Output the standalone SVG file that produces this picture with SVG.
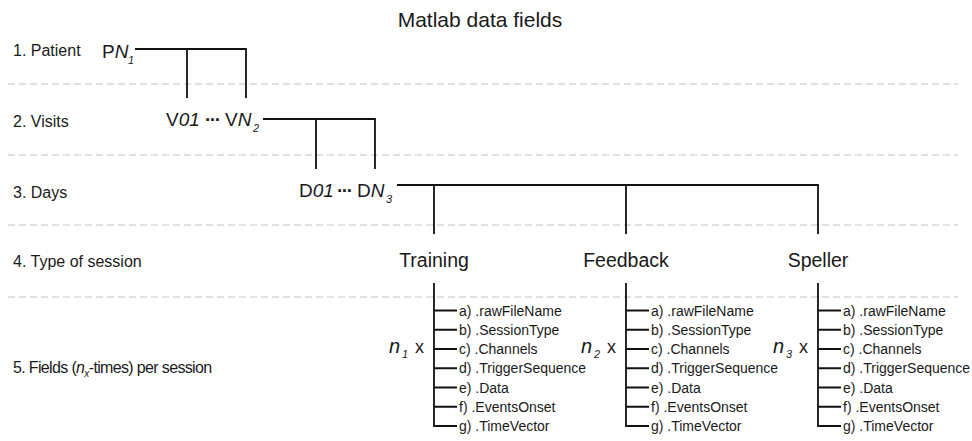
<svg xmlns="http://www.w3.org/2000/svg" width="972" height="441" viewBox="0 0 972 441">
<style>
text{font-family:"Liberation Sans",Arial,sans-serif;fill:#1a1a1a}
.title{font-size:21px;text-anchor:middle}
.row{font-size:16px}
.row5{font-size:16px;letter-spacing:-0.65px}
.lvl{font-size:19px}
.it{font-style:italic}
.sub{font-size:11px;font-style:italic}
.dots{font-weight:bold;letter-spacing:-1.5px}
.sess{font-size:19.5px;text-anchor:middle}
.fld{font-size:14px}
.nlab{font-size:20px;font-style:italic}
.xlab{font-size:18px}
.sep{stroke:#c4c4c4;stroke-width:1.1;stroke-dasharray:7 4;fill:none}
.cn{stroke:#111;stroke-width:1.8;fill:none}
</style>
<rect width="972" height="441" fill="#fff"/>
<g id="separators">
<line class="sep" x1="8" y1="84" x2="958" y2="84"/>
<line class="sep" x1="8" y1="155" x2="958" y2="155"/>
<line class="sep" x1="8" y1="225" x2="958" y2="225"/>
<line class="sep" x1="8" y1="297" x2="958" y2="297"/>
</g>
<g id="title"><text class="title" x="480" y="27">Matlab data fields</text></g>
<g id="row-labels">
<text class="row" x="13" y="56">1. Patient</text>
<text class="row" x="13" y="127">2. Visits</text>
<text class="row" x="13" y="198">3. Days</text>
<text class="row" x="13" y="267">4. Type of session</text>
<text class="row5" x="13" y="373">5. Fields (<tspan class="it">n</tspan><tspan class="it" font-size="10" dy="4">x</tspan><tspan dy="-4">-times) per session</tspan></text>
</g>
<g id="connectors">
<path class="cn" d="M135,49 H246 V98 M187,49 V98"/>
<path class="cn" d="M263,119 H375 V169 M316,119 V169"/>
<path class="cn" d="M397,185 H818 V234 M434,185 V234 M626,185 V234"/>
<path class="cn" d="M434,283 V426 H457 M434,310.5 H457 M434,329.75 H457 M434,349 H457 M434,368.25 H457 M434,387.5 H457 M434,406.75 H457"/>
<path class="cn" d="M626,283 V426 H649 M626,310.5 H649 M626,329.75 H649 M626,349 H649 M626,368.25 H649 M626,387.5 H649 M626,406.75 H649"/>
<path class="cn" d="M818,283 V426 H841 M818,310.5 H841 M818,329.75 H841 M818,349 H841 M818,368.25 H841 M818,387.5 H841 M818,406.75 H841"/>
</g>
<g id="patient">
<text class="lvl" x="102" y="58">P<tspan class="it">N</tspan></text>
<text class="sub" x="128" y="64">1</text>
</g>
<g id="visits">
<text class="lvl" x="166" y="126">V<tspan class="it">01</tspan></text>
<text class="lvl dots" x="205" y="126">···</text>
<text class="lvl" x="225" y="126">V<tspan class="it">N</tspan></text>
<text class="sub" x="253" y="132">2</text>
</g>
<g id="days">
<text class="lvl" x="299" y="197">D<tspan class="it">01</tspan></text>
<text class="lvl dots" x="337" y="197">···</text>
<text class="lvl" x="357" y="197">D<tspan class="it">N</tspan></text>
<text class="sub" x="386" y="203">3</text>
</g>
<g id="training"><text class="sess" x="434" y="267">Training</text></g>
<g id="feedback"><text class="sess" x="626" y="267">Feedback</text></g>
<g id="speller"><text class="sess" x="818" y="267">Speller</text></g>
<g id="training-fields">
<text class="nlab" x="389" y="353">n</text><text class="sub" x="402" y="358">1</text><text class="xlab" x="415" y="353">x</text>
<text class="fld" x="459" y="315.5">a) .rawFileName</text>
<text class="fld" x="459" y="334.75">b) .SessionType</text>
<text class="fld" x="459" y="354">c) .Channels</text>
<text class="fld" x="459" y="373.25">d) .TriggerSequence</text>
<text class="fld" x="459" y="392.5">e) .Data</text>
<text class="fld" x="459" y="411.75">f) .EventsOnset</text>
<text class="fld" x="459" y="431">g) .TimeVector</text>
</g>
<g id="feedback-fields">
<text class="nlab" x="581" y="353">n</text><text class="sub" x="594" y="358">2</text><text class="xlab" x="607" y="353">x</text>
<text class="fld" x="651" y="315.5">a) .rawFileName</text>
<text class="fld" x="651" y="334.75">b) .SessionType</text>
<text class="fld" x="651" y="354">c) .Channels</text>
<text class="fld" x="651" y="373.25">d) .TriggerSequence</text>
<text class="fld" x="651" y="392.5">e) .Data</text>
<text class="fld" x="651" y="411.75">f) .EventsOnset</text>
<text class="fld" x="651" y="431">g) .TimeVector</text>
</g>
<g id="speller-fields">
<text class="nlab" x="773" y="353">n</text><text class="sub" x="786" y="358">3</text><text class="xlab" x="799" y="353">x</text>
<text class="fld" x="843" y="315.5">a) .rawFileName</text>
<text class="fld" x="843" y="334.75">b) .SessionType</text>
<text class="fld" x="843" y="354">c) .Channels</text>
<text class="fld" x="843" y="373.25">d) .TriggerSequence</text>
<text class="fld" x="843" y="392.5">e) .Data</text>
<text class="fld" x="843" y="411.75">f) .EventsOnset</text>
<text class="fld" x="843" y="431">g) .TimeVector</text>
</g>
</svg>
